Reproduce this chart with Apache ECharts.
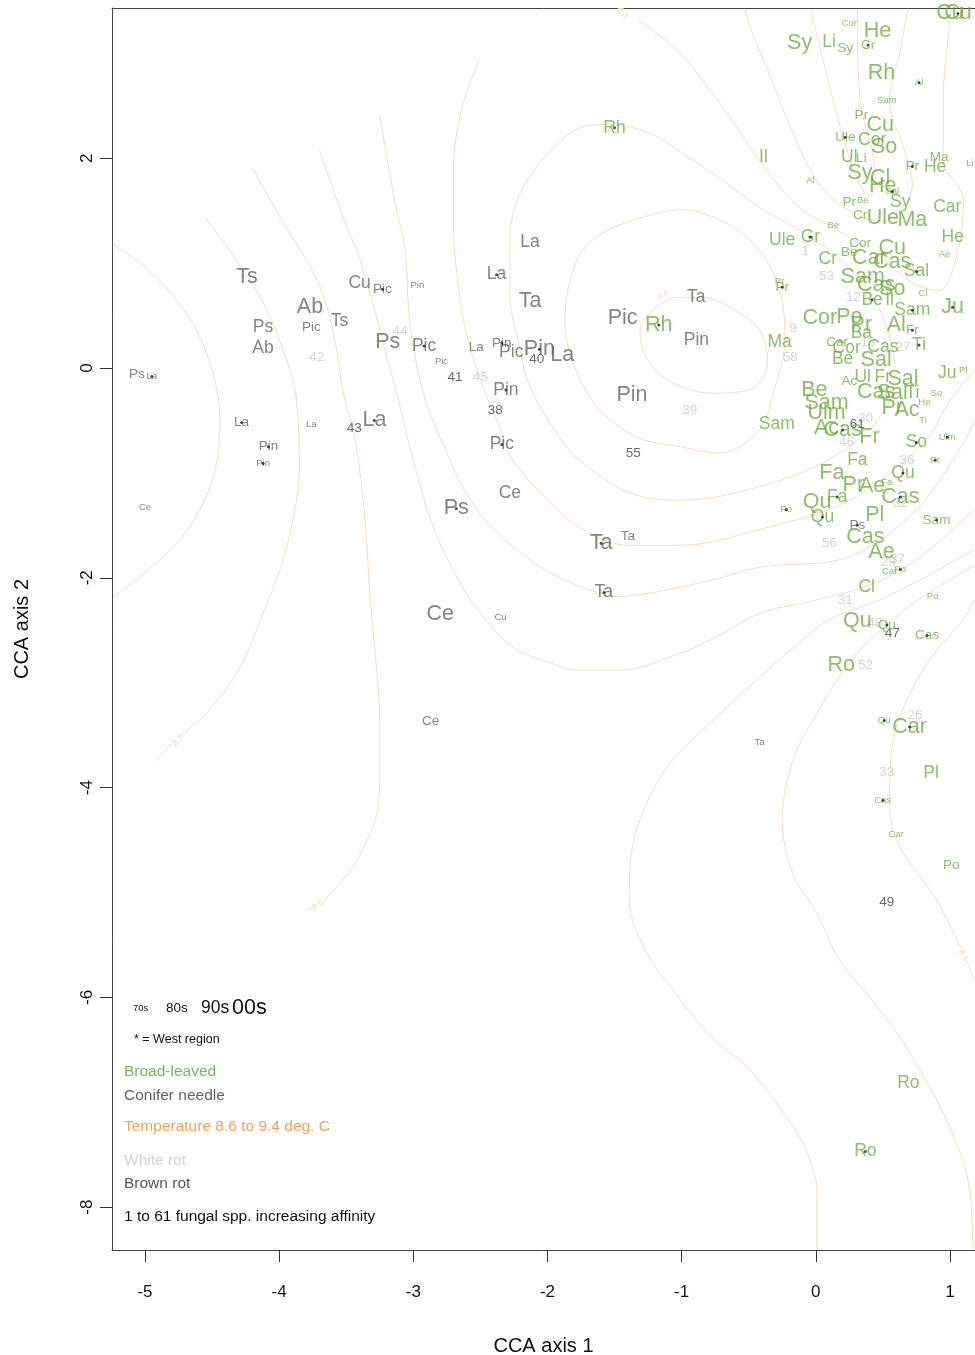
<!DOCTYPE html>
<html>
<head>
<meta charset="utf-8">
<script src="https://cdn.jsdelivr.net/npm/echarts@6/dist/echarts.min.js"></script>
<style>
  html, body { margin: 0; padding: 0; background: #ffffff; }
  #chart { width: 975px; height: 1355px; }
</style>
</head>
<body>
<div id="chart"></div>
<script>
// ---- Tick positions ----
const xTicks = [-5, -4, -3, -2, -1, 0, 1];
const yTicks = [-8, -6, -4, -2, 0, 2];

// ---- Conifer needle hosts (label, CCA1, CCA2, decade, west region flag) ----
const coniferLabel = ['Ps','La','Ce','Ts','Ps','Ab','Ab','Pic','Ts','Cu','Pic','Pin','Ps','La','Pin','Pin','La','La','Pic','Pic','La','Pin','Pic','Pin','La','Pin','Pic','La','La','Ta','Pic','Ta','Pin','Pin','Ce','Ps','Ce','Cu','Ta','Ta','Ta','Ce','Ta','Ps'];
const coniferX = [-5.06,-4.95,-5.00,-4.24,-4.12,-4.12,-3.77,-3.76,-3.55,-3.40,-3.23,-2.97,-3.19,-4.28,-4.08,-4.12,-3.76,-3.29,-2.92,-2.79,-2.53,-2.34,-2.27,-2.06,-1.89,-2.31,-2.34,-2.13,-2.38,-2.13,-1.44,-0.89,-0.89,-1.37,-2.28,-2.68,-2.80,-2.35,-1.60,-1.40,-1.58,-2.87,-0.42,0.31];
const coniferY = [-0.06,-0.08,-1.33,0.87,0.39,0.19,0.58,0.39,0.45,0.81,0.75,0.79,0.25,-0.52,-0.75,-0.91,-0.54,-0.50,0.21,0.06,0.20,0.24,0.15,0.18,0.12,-0.21,-0.73,1.20,0.89,0.64,0.48,0.68,0.27,-0.26,-1.19,-1.34,-2.35,-2.38,-1.67,-1.60,-2.14,-3.37,-3.57,-1.50];
const coniferDecade = ['80s','70s','70s','00s','90s','90s','00s','80s','90s','90s','80s','70s','00s','80s','80s','70s','70s','00s','90s','70s','80s','80s','90s','00s','00s','90s','90s','90s','90s','00s','00s','90s','90s','00s','90s','00s','00s','70s','00s','80s','90s','80s','70s','80s'];
const coniferWest = [0,1,0,0,0,0,0,0,0,0,1,0,0,1,1,1,0,1,1,0,0,1,0,1,0,1,1,0,1,0,0,0,0,0,0,1,0,0,1,0,1,0,0,1];

// ---- Broad-leaved hosts ----
const broadLabel = ['Rh','Rh','Cor','Sy','Li','Sy','Cr','He','Rh','Al','Sam','Pr','Cu','Ule','Cor','So','Ul','Li','Il','Al','Sy','Cl','Ma','Pr','He','Li','He','Sal','Cu','Cu',
  'Pr','Be','Sy','Cr','Ule','Ma','Car','Be','Ule','Gr','He','Ae','Cor','Cr','Be','Car','Cu','Cas','Sam','Sal','Pr','Pr','Cas','So','Cl','Be','Il','Sam','Ju',
  'Cor','Po','Pr','Al','Ba','Fr','Ma','Car','Cor','Cas','Ti','Be','Sal','Ma','Ju','Pl','Ac','Ul','Fr','Sal','Be','Cas','Sal','Ti','So','Ju',
  'Sam','Sam','Ulm','Pr','Ac','He','Ti','Ac','Cas','Fr','So','Ulm','Fa','Pr','Fa','Fa','Qu','Pr','Ae','Cas','Qu','Fa','Po','Qu','Pl','Cas','Sam','Ae','Car','Po','Cl','Po',
  'Qu','Qu','Cas','Ro','Qu','Car','Pl','Cas','Car','Po','Ro','Ro'];
const broadX = [-1.17,-1.50,0.25,-0.12,0.10,0.22,0.39,0.46,0.49,0.77,0.53,0.34,0.48,0.22,0.42,0.51,0.25,0.34,-0.39,-0.04,0.33,0.48,0.92,0.72,0.89,1.15,0.50,0.57,1.06,1.00,
  0.25,0.35,0.63,0.33,0.50,0.72,0.98,0.13,-0.25,-0.04,1.02,0.96,0.33,0.09,0.25,0.40,0.57,0.57,0.35,0.75,-0.25,-0.27,0.45,0.57,0.80,0.42,0.55,0.72,1.02,
  0.03,0.25,0.34,0.60,0.34,0.72,-0.27,0.16,0.23,0.50,0.77,0.20,0.45,1.26,0.98,1.10,0.25,0.35,0.50,0.65,-0.01,0.45,0.57,0.72,0.90,1.19,
  -0.29,0.08,0.08,0.57,0.68,0.81,0.80,0.08,0.20,0.40,0.75,0.98,0.31,0.89,0.12,0.53,0.65,0.28,0.42,0.63,0.01,0.16,-0.22,0.05,0.44,0.37,0.90,0.49,0.55,0.63,0.38,0.87,
  0.31,0.53,0.83,0.19,0.51,0.70,0.86,0.50,0.60,1.01,0.69,0.37];
const broadY = [0.41,2.29,3.29,3.10,3.11,3.05,3.08,3.21,2.81,2.72,2.55,2.41,2.32,2.20,2.17,2.11,2.01,2.00,2.01,1.79,1.86,1.81,2.01,1.92,1.91,1.95,1.73,1.68,3.38,3.38,
  1.58,1.60,1.58,1.46,1.43,1.41,1.53,1.36,1.22,1.25,1.25,1.08,1.19,1.04,1.10,1.05,1.14,1.01,0.87,0.92,0.77,0.83,0.79,0.75,0.71,0.65,0.65,0.55,0.58,
  0.48,0.49,0.41,0.41,0.33,0.36,0.25,0.25,0.19,0.20,0.22,0.08,0.08,0.17,-0.05,-0.02,-0.13,-0.09,-0.09,-0.11,-0.21,-0.23,-0.24,-0.24,-0.24,0.82,
  -0.54,-0.33,-0.43,-0.38,-0.40,-0.33,-0.50,-0.57,-0.59,-0.66,-0.71,-0.66,-0.88,-0.88,-1.00,-1.09,-1.00,-1.12,-1.13,-1.23,-1.28,-1.23,-1.35,-1.42,-1.40,-1.61,-1.45,-1.75,-1.94,-1.92,-2.09,-2.18,
  -2.41,-2.45,-2.55,-2.83,-3.36,-3.42,-3.86,-4.12,-4.45,-4.74,-6.82,-7.47];
const broadDecade = ['00s','90s','70s','00s','90s','80s','80s','00s','00s','70s','70s','80s','00s','80s','90s','00s','90s','80s','90s','70s','00s','00s','80s','80s','90s','70s','00s','70s','00s','00s',
  '80s','70s','90s','80s','00s','00s','90s','70s','90s','90s','90s','70s','80s','90s','80s','00s','00s','00s','00s','90s','80s','70s','00s','00s','70s','90s','90s','90s','00s',
  '00s','00s','00s','00s','90s','80s','90s','80s','90s','90s','90s','90s','00s','00s','90s','70s','80s','90s','90s','00s','00s','00s','00s','90s','70s','70s',
  '90s','00s','00s','00s','00s','70s','70s','00s','00s','00s','90s','70s','90s','70s','00s','70s','90s','00s','00s','00s','00s','90s','70s','90s','00s','00s','80s','00s','70s','70s','90s','70s',
  '00s','80s','80s','00s','70s','00s','90s','70s','70s','80s','90s','90s'];
const broadWest = [1,1,0,0,0,0,1,0,0,1,0,0,0,1,0,0,0,0,0,0,0,0,0,1,0,0,0,1,1,0,
  0,0,0,0,0,0,0,0,0,1,0,0,0,0,0,0,0,0,0,1,1,0,0,0,0,1,0,1,1,
  0,0,0,0,0,1,0,0,0,0,1,0,0,0,0,0,0,0,0,0,0,0,0,0,0,0,
  0,0,0,0,0,0,0,0,1,0,1,1,0,1,0,0,1,0,0,1,0,1,1,1,0,0,1,0,0,1,0,0,
  0,1,1,0,1,1,0,1,0,0,0,1];

// ---- Fungal species (number, CCA1, CCA2, rot type) ----
const fungusNum = [42,44,43,41,45,40,38,39,55,1,53,12,9,58,13,27,30,61,46,36,32,56,29,37,31,48,47,52,26,33,49];
const fungusX = [-3.72,-3.10,-3.44,-2.69,-2.50,-2.08,-2.39,-0.94,-1.36,-0.08,0.08,0.28,-0.17,-0.19,0.39,0.65,0.37,0.31,0.23,0.68,0.63,0.10,0.54,0.61,0.22,0.44,0.57,0.37,0.74,0.53,0.53];
const fungusY = [0.10,0.35,-0.57,-0.09,-0.09,0.08,-0.40,-0.40,-0.81,1.11,0.87,0.67,0.38,0.10,0.25,0.20,-0.48,-0.54,-0.71,-0.88,-1.29,-1.67,-1.85,-1.82,-2.21,-2.43,-2.53,-2.83,-3.31,-3.85,-5.09];
const fungusRot = ['white','white','brown','brown','white','brown','brown','white','brown','white','white','white','white','white','white','white','white','brown','white','white','white','white','white','white','white','white','brown','white','white','white','brown'];

// ---- Temperature surface contours (CCA1, CCA2) ----
const contourA = [[-5.25,1.19],[-4.96,0.92],[-4.67,0.48],[-4.50,-0.02],[-4.44,-0.54],[-4.50,-1.07],[-4.67,-1.52],[-4.89,-1.83],[-5.24,-2.19]];
const contourB = [[-4.55,1.43],[-4.37,1.12],[-4.13,0.65],[-3.97,0.17],[-3.87,-0.31],[-3.85,-0.97],[-3.87,-1.26],[-3.97,-1.83],[-4.13,-2.37],[-4.29,-2.85],[-4.54,-3.29],[-4.80,-3.58],[-4.93,-3.76]];
const contourC = [[-4.20,1.91],[-3.94,1.32],[-3.84,1.12],[-3.70,0.79],[-3.60,0.36],[-3.51,-0.31],[-3.45,-0.57],[-3.40,-0.97],[-3.36,-1.45],[-3.32,-2.21],[-3.28,-2.78],[-3.25,-3.36],[-3.25,-3.83],[-3.27,-4.24],[-3.36,-4.55],[-3.47,-4.79],[-3.64,-5.04],[-3.79,-5.17]];
const contourD = [[-3.70,2.08],[-3.49,1.32],[-3.42,1.12],[-3.31,0.65],[-3.21,0.17],[-3.11,-0.31],[-3.00,-0.88],[-2.85,-1.52],[-2.65,-2.05],[-2.50,-2.34],[-2.26,-2.66],[-2.00,-2.80],[-1.76,-2.88],[-1.46,-2.88],[-1.01,-2.72],[-0.72,-2.55],[-0.42,-2.34],[0.01,-2.21],[0.40,-2.07],[0.75,-1.83],[1.18,-1.35]];
const contourE = [[-3.25,2.41],[-3.14,1.60],[-3.06,1.12],[-3.04,0.65],[-3.01,0.27],[-2.91,-0.31],[-2.76,-0.78],[-2.62,-1.16],[-2.43,-1.50],[-2.13,-1.83],[-1.91,-2.00],[-1.68,-2.12],[-1.51,-2.18],[-1.21,-2.14],[-0.77,-2.02],[-0.42,-1.90],[0.25,-1.80],[0.75,-1.35],[1.10,-0.72],[1.18,-0.50]];
const contourF = [[-2.51,2.94],[-2.64,2.46],[-2.70,1.89],[-2.70,1.32],[-2.67,0.84],[-2.61,0.36],[-2.50,-0.11],[-2.35,-0.59],[-2.26,-0.88],[-2.02,-1.23],[-1.76,-1.52],[-1.39,-1.69],[-1.01,-1.69],[-0.42,-1.54],[0.25,-1.26],[0.80,-0.72],[1.00,-0.31],[1.18,-0.02]];
const contourG = [[-2.28,1.32],[-2.28,0.68],[-2.22,0.27],[-2.13,-0.18],[-1.91,-0.66],[-1.76,-0.88],[-1.39,-1.19],[-1.01,-1.26],[-0.42,-1.13],[0.13,-0.85],[0.50,-0.43],[0.59,-0.02],[0.51,0.46],[0.33,0.84],[0.10,1.12],[-0.14,1.33],[-0.42,1.53],[-0.63,1.73],[-0.95,2.01],[-1.26,2.25],[-1.57,2.32],[-1.79,2.27],[-2.04,1.98],[-2.21,1.65],[-2.28,1.32]];
const contourP2 = [[-1.36,1.41],[-1.01,1.51],[-0.68,1.39],[-0.42,1.12],[-0.27,0.74],[-0.23,0.27],[-0.31,-0.21],[-0.42,-0.59],[-0.72,-0.81],[-1.01,-0.75],[-1.33,-0.66],[-1.63,-0.37],[-1.81,0.05],[-1.87,0.46],[-1.78,1.03],[-1.61,1.27],[-1.36,1.41]];
const contourP1 = [[-1.07,0.67],[-0.84,0.67],[-0.60,0.55],[-0.42,0.36],[-0.36,0.08],[-0.45,-0.18],[-0.77,-0.24],[-1.11,-0.11],[-1.27,0.12],[-1.31,0.36],[-1.20,0.57],[-1.07,0.67]];
const contourH = [[1.18,-1.73],[0.85,-1.97],[0.48,-2.21],[0.10,-2.40],[-0.19,-2.69],[-0.42,-2.95],[-0.66,-3.23],[-0.86,-3.47],[-1.07,-3.74],[-1.25,-4.12],[-1.37,-4.59],[-1.39,-5.07],[-1.27,-5.55],[-1.01,-6.02],[-0.75,-6.41],[-0.49,-6.69],[-0.12,-7.33],[-0.02,-7.65],[0.01,-7.84],[0.01,-8.41]];
const contourI = [[1.18,-1.88],[0.85,-2.14],[0.57,-2.40],[0.25,-2.81],[0.01,-3.29],[-0.17,-3.74],[-0.25,-4.31],[-0.17,-4.82],[0.01,-5.20],[0.18,-5.65],[0.48,-6.12],[0.70,-6.53],[1.00,-7.24],[1.15,-7.86],[1.17,-8.41]];
const contourJ = [[1.18,-2.21],[1.10,-2.40],[0.90,-2.69],[0.68,-3.16],[0.57,-3.61],[0.55,-4.18],[0.63,-4.57],[0.90,-5.07],[1.10,-5.58],[1.18,-5.83]];
const contourT0 = [[-1.32,3.32],[-1.01,3.00],[-0.79,2.65],[-0.66,2.43],[-0.42,1.98],[-0.14,1.55],[0.18,1.30],[0.48,1.05],[0.74,0.80],[0.92,0.74],[1.06,1.12],[1.10,1.60],[0.95,1.98],[0.95,2.55],[1.00,3.32],[1.01,3.43]];
const contourT1 = [[-0.53,3.43],[-0.49,3.25],[-0.33,2.75],[-0.17,2.24],[0.01,1.78],[0.22,1.52],[0.48,1.40],[0.66,1.55],[0.72,1.75],[0.66,2.08],[0.55,2.55],[0.63,3.03],[0.68,3.38],[0.69,3.43]];
const contourT2 = [[-0.04,3.43],[-0.03,3.38],[0.13,2.55],[0.24,2.05],[0.33,1.75],[0.39,1.64],[0.45,1.75],[0.42,2.08],[0.33,2.55],[0.31,3.38],[0.31,3.43]];

// Contour level labels
const contourLabelText = ['8.7','8.6','8.7','8.6','9.4'];
const contourLabelX = [-4.75,-3.71,-1.44,1.10,-1.14];
const contourLabelY = [-3.55,-5.12,3.38,-5.60,0.69];
const contourLabelAngle = [40,35,-40,-65,30];

// ---- Styling ----
const FONT = '"Liberation Sans", Arial, Helvetica, sans-serif';
const decadeFont = { '70s': 9.5, '80s': 13.5, '90s': 17.5, '00s': 21.5 };
const broadColor = '#74ad45';
const coniferColor = '#5e6b57';
const whiteRotColor = '#c9c9c9';
const brownRotColor = '#444444';
const tempColor = '#f0a35a';
const contourColor = 'rgba(236,170,115,0.42)';
const frameColor = '#444444';

function hostItems(labels, xs, ys, decades, color) {
  return labels.map((t, i) => ({
    name: t,
    value: [xs[i], ys[i]],
    label: { fontSize: decadeFont[decades[i]], color: color }
  }));
}
function westPoints(xs, ys, flags) {
  const out = [];
  flags.forEach((f, i) => { if (f) out.push([xs[i], ys[i]]); });
  return out;
}
function textSeries(data, z) {
  return {
    type: 'scatter', data: data, z: z, silent: true, symbolSize: 1,
    itemStyle: { color: 'rgba(0,0,0,0)' },
    label: { show: true, position: 'inside', formatter: '{b}', fontFamily: FONT, align: 'center', verticalAlign: 'middle' },
    emphasis: { disabled: true }
  };
}

const contours = [contourA, contourB, contourC, contourD, contourE, contourF, contourG, contourP2, contourP1, contourH, contourI, contourJ, contourT0, contourT1, contourT2];
const contourSeries = contours.map(c => ({
  type: 'line', data: c, showSymbol: false, smooth: 0.35, silent: true, z: 1,
  lineStyle: { color: contourColor, width: 1 }
}));

const contourLabelSeries = {
  type: 'scatter', silent: true, z: 2, symbolSize: 1, itemStyle: { color: 'rgba(0,0,0,0)' },
  data: contourLabelText.map((t, i) => ({
    name: t, value: [contourLabelX[i], contourLabelY[i]],
    label: { rotate: contourLabelAngle[i] }
  })),
  label: { show: true, position: 'inside', formatter: '{b}', fontFamily: FONT, fontSize: 8.5,
           color: 'rgba(225,160,105,0.55)', backgroundColor: '#ffffff', padding: [0, 1] }
};

const fungusSeries = textSeries(fungusNum.map((n, i) => ({
  name: String(n), value: [fungusX[i], fungusY[i]],
  label: { fontSize: 13.5, color: fungusRot[i] === 'white' ? whiteRotColor : brownRotColor }
})), 3);

const coniferSeries = textSeries(hostItems(coniferLabel, coniferX, coniferY, coniferDecade, coniferColor), 4);
const broadSeries = textSeries(hostItems(broadLabel, broadX, broadY, broadDecade, broadColor), 5);

const westSeries = {
  type: 'scatter', silent: true, z: 6, symbol: 'circle', symbolSize: 3,
  itemStyle: { color: '#1e1e1e' },
  data: westPoints(coniferX, coniferY, coniferWest).concat(westPoints(broadX, broadY, broadWest))
};

// ---- Legend block inside the plot ----
function legendText(x, y, text, size, color) {
  return { type: 'text', x: x, y: y, silent: true, z: 10,
           style: { text: text, fill: color, font: size + 'px ' + FONT, verticalAlign: 'middle', align: 'left' } };
}
const legendGraphics = [
  legendText(133, 1008, '70s', 9.5, '#111'),
  legendText(166, 1008, '80s', 13.5, '#111'),
  legendText(201, 1008, '90s', 17.5, '#111'),
  legendText(232, 1008, '00s', 21.5, '#111'),
  legendText(134, 1040, '* = West region', 12.5, '#111'),
  legendText(124, 1072, 'Broad-leaved', 15.5, '#7fb159'),
  legendText(124, 1096, 'Conifer needle', 15.5, '#5f6660'),
  legendText(124, 1127, 'Temperature 8.6 to 9.4 deg. C', 15.5, tempColor),
  legendText(124, 1161, 'White rot', 15.5, '#d2d2d2'),
  legendText(124, 1184, 'Brown rot', 15.5, '#555555'),
  legendText(124, 1217, '1 to 61 fungal spp. increasing affinity', 15.5, '#111')
];

const chart = echarts.init(document.getElementById('chart'), null, { renderer: 'canvas' });
chart.setOption({
  animation: false,
  backgroundColor: '#ffffff',
  grid: { left: 112, top: 8, right: 0, bottom: 105, show: false, outerBoundsMode: 'none', containLabel: false },
  xAxis: [{
    type: 'value', position: 'bottom', min: -5.246, max: 1.187,
    axisLine: { show: true, onZero: false, lineStyle: { color: frameColor, width: 1 } },
    splitLine: { show: false },
    axisTick: { show: true, customValues: xTicks, length: 12, lineStyle: { color: '#333' } },
    axisLabel: { customValues: xTicks, fontSize: 17, color: '#111', margin: 34, fontFamily: FONT },
    name: 'CCA axis 1', nameLocation: 'middle', nameGap: 86,
    nameTextStyle: { fontSize: 20, color: '#111', fontFamily: FONT }
  }, {
    // top edge of the plot frame
    type: 'value', position: 'top', min: -5.246, max: 1.187,
    axisLine: { show: true, onZero: false, lineStyle: { color: frameColor, width: 1 } },
    axisTick: { show: false }, axisLabel: { show: false }, splitLine: { show: false }
  }],
  yAxis: {
    type: 'value', min: -8.408, max: 3.432,
    axisLine: { show: true, onZero: false, lineStyle: { color: frameColor, width: 1 } },
    splitLine: { show: false },
    axisTick: { show: true, customValues: yTicks, length: 12, lineStyle: { color: '#333' } },
    axisLabel: { customValues: yTicks, rotate: 90, fontSize: 17, color: '#111', margin: 16, fontFamily: FONT },
    name: 'CCA axis 2', nameLocation: 'middle', nameGap: 80, nameRotate: 90,
    nameTextStyle: { fontSize: 20, color: '#111', fontFamily: FONT }
  },
  series: contourSeries.concat([contourLabelSeries, fungusSeries, coniferSeries, broadSeries, westSeries]),
  graphic: legendGraphics
});
</script>
</body>
</html>
